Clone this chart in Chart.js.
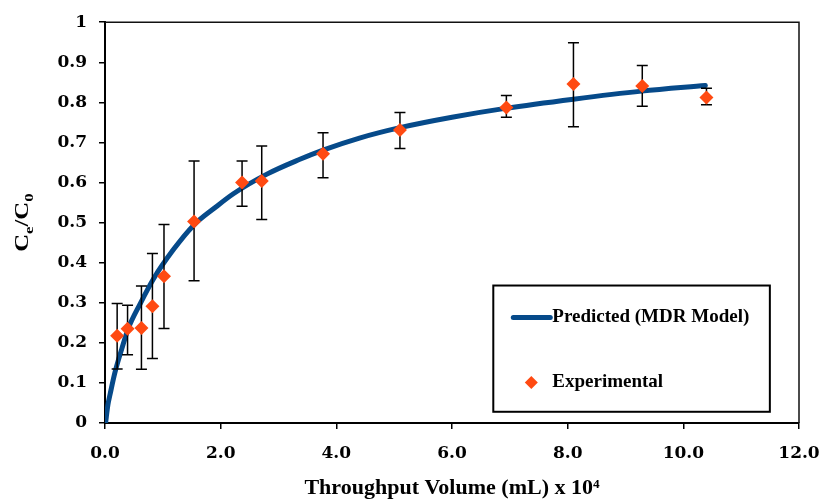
<!DOCTYPE html>
<html>
<head>
<meta charset="utf-8">
<script src="https://cdn.jsdelivr.net/npm/chart.js@4.4.1/dist/chart.umd.min.js"></script>
<style>
  html, body { margin: 0; padding: 0; background: #fff; }
  #wrap { width: 839px; height: 504px; }
</style>
</head>
<body>
<div id="wrap"><canvas id="chart" width="839" height="504"></canvas></div>
<script>
// experimental breakthrough points (volume in 10^4 mL, Ce/C0)
const expVolume = [0.21, 0.39, 0.63, 0.82, 1.02, 1.54, 2.37, 2.71, 3.77, 5.10, 6.94, 8.10, 9.29, 10.40];
const expRatio  = [0.218, 0.235, 0.237, 0.291, 0.366, 0.503, 0.600, 0.604, 0.672, 0.731, 0.787, 0.846, 0.841, 0.812];
const expHigh   = [0.298, 0.294, 0.342, 0.423, 0.495, 0.654, 0.654, 0.691, 0.724, 0.775, 0.817, 0.949, 0.892, 0.835];
const expLow    = [0.135, 0.170, 0.134, 0.161, 0.236, 0.355, 0.541, 0.508, 0.612, 0.685, 0.763, 0.739, 0.790, 0.794];

// MDR model curve
const modelVolume = [0.01, 0.05, 0.09, 0.17, 0.29, 0.40, 0.61, 0.84, 1.18, 1.53, 1.90, 2.22, 2.80, 3.37, 3.77, 4.40, 5.10, 6.00, 6.92, 8.10, 9.28, 10.38];
const modelRatio  = [0.0, 0.045, 0.073, 0.125, 0.185, 0.235, 0.298, 0.360, 0.432, 0.493, 0.537, 0.572, 0.621, 0.658, 0.681, 0.711, 0.737, 0.763, 0.785, 0.808, 0.828, 0.842];

const xTicks = [0, 2, 4, 6, 8, 10, 12];

const blue = '#064A8A';
const orange = '#FF4A12';
const serif = '"Liberation Serif", "Times New Roman", serif';
const tickFont = { family: '"DejaVu Serif", serif', size: 17, weight: 'bold' };

// top and right edges of the plot box
const frame = {
  id: 'frame',
  beforeDatasetsDraw(chart) {
    const { ctx, chartArea: a } = chart;
    ctx.save();
    ctx.strokeStyle = '#111';
    ctx.lineWidth = 1.5;
    ctx.beginPath();
    ctx.moveTo(a.left, a.top);
    ctx.lineTo(a.right, a.top);
    ctx.lineTo(a.right, a.bottom);
    ctx.stroke();
    ctx.restore();
  }
};

// error bars go under the markers
const errorBars = {
  id: 'errorBars',
  beforeDatasetDraw(chart, args) {
    if (args.index !== 0) return;
    const { ctx, scales: { x, y } } = chart;
    ctx.save();
    ctx.strokeStyle = '#000';
    ctx.lineWidth = 1.5;
    expVolume.forEach((v, i) => {
      const px = x.getPixelForValue(v);
      const top = y.getPixelForValue(expHigh[i]);
      const bot = y.getPixelForValue(expLow[i]);
      ctx.beginPath();
      ctx.moveTo(px, top); ctx.lineTo(px, bot);
      ctx.moveTo(px - 5.5, top); ctx.lineTo(px + 5.5, top);
      ctx.moveTo(px - 5.5, bot); ctx.lineTo(px + 5.5, bot);
      ctx.stroke();
    });
    ctx.restore();
  }
};

// rotated y title with subscripts: Ce/C0
const yTitle = {
  id: 'yTitle',
  afterDraw(chart) {
    const { ctx, chartArea: a } = chart;
    const big = 'bold 19px ' + serif, small = 'bold 13px ' + serif;
    const parts = [['C', big, 0], ['e', small, 5], ['/', big, 0], ['C', big, 0], ['0', small, 5]];
    ctx.save();
    ctx.translate(27.5, (a.top + a.bottom) / 2);
    ctx.rotate(-Math.PI / 2);
    ctx.scale(1.3, 1);
    ctx.fillStyle = '#000';
    ctx.textBaseline = 'alphabetic';
    let total = 0;
    parts.forEach(p => { ctx.font = p[1]; total += ctx.measureText(p[0]).width; });
    let cx = -total / 2;
    parts.forEach(p => {
      ctx.font = p[1];
      ctx.fillText(p[0], cx, p[2]);
      cx += ctx.measureText(p[0]).width;
    });
    ctx.restore();
  }
};

// boxed legend inside the plot, lower right
const legendBox = {
  id: 'legendBox',
  afterDraw(chart) {
    const { ctx, chartArea: a } = chart;
    const w = a.right - a.left, h = a.bottom - a.top;
    const L = a.left + 0.5595 * w, T = a.top + 0.657 * h;
    const R = a.left + 0.958 * w, B = a.top + 0.972 * h;
    const model = chart.data.datasets[1], exp = chart.data.datasets[0];
    ctx.save();
    ctx.fillStyle = '#fff';
    ctx.fillRect(L, T, R - L, B - T);
    ctx.strokeStyle = '#000';
    ctx.lineWidth = 2;
    ctx.strokeRect(L, T, R - L, B - T);

    ctx.strokeStyle = model.borderColor;
    ctx.lineWidth = model.borderWidth;
    ctx.lineCap = 'round';
    ctx.beginPath();
    ctx.moveTo(L + 20, T + 32);
    ctx.lineTo(L + 57, T + 32);
    ctx.stroke();

    ctx.fillStyle = exp.backgroundColor;
    Chart.helpers.drawPoint(ctx, { pointStyle: 'rectRot', radius: 6.5, rotation: 0, borderWidth: 0 }, L + 38, T + 97);

    ctx.fillStyle = '#000';
    ctx.font = 'bold 19px ' + serif;
    ctx.textBaseline = 'middle';
    ctx.fillText(model.label, L + 59, T + 32);
    ctx.fillText(exp.label, L + 59, T + 97);
    ctx.restore();
  }
};

new Chart(document.getElementById('chart'), {
  type: 'scatter',
  data: {
    datasets: [
      {
        label: 'Experimental',
        data: expVolume.map((v, i) => ({ x: v, y: expRatio[i] })),
        pointStyle: 'rectRot',
        pointRadius: 7,
        backgroundColor: orange,
        borderWidth: 0
      },
      {
        label: 'Predicted (MDR Model)',
        data: modelVolume.map((v, i) => ({ x: v, y: modelRatio[i] })),
        showLine: true,
        borderColor: blue,
        borderWidth: 5,
        borderCapStyle: 'round',
        pointRadius: 0,
        cubicInterpolationMode: 'monotone',
        fill: false
      }
    ]
  },
  options: {
    responsive: false,
    animation: false,
    devicePixelRatio: 1,
    events: [],
    layout: { padding: { left: 0, top: 13, right: 40, bottom: 0 } },
    plugins: { legend: { display: false }, tooltip: { enabled: false } },
    scales: {
      x: {
        type: 'linear',
        min: 0,
        max: 12,
        afterFit(s) { s.height = 81; },
        afterBuildTicks(s) { s.ticks = xTicks.map(v => ({ value: v })); },
        ticks: { callback: v => v.toFixed(1), font: tickFont, color: '#000', padding: 14, maxRotation: 0, autoSkip: false },
        grid: { drawOnChartArea: false, drawTicks: true, tickLength: 6, color: '#000', lineWidth: 1.5 },
        border: { display: true, color: '#000', width: 2 },
        title: {
          display: true,
          text: 'Throughput Volume (mL) x 10⁴',
          font: { family: serif, size: 22, weight: 'bold' },
          color: '#000',
          padding: { top: 0, bottom: 2 }
        }
      },
      y: {
        min: 0,
        max: 1,
        afterFit(s) { s.width = 105; },
        ticks: { stepSize: 0.1, callback: v => String(+v.toFixed(1)), font: tickFont, color: '#000', padding: 12 },
        grid: { drawOnChartArea: false, drawTicks: true, tickLength: 6, color: '#000', lineWidth: 1.5 },
        border: { display: true, color: '#000', width: 2 }
      }
    }
  },
  plugins: [frame, errorBars, yTitle, legendBox]
});
</script>
</body>
</html>
